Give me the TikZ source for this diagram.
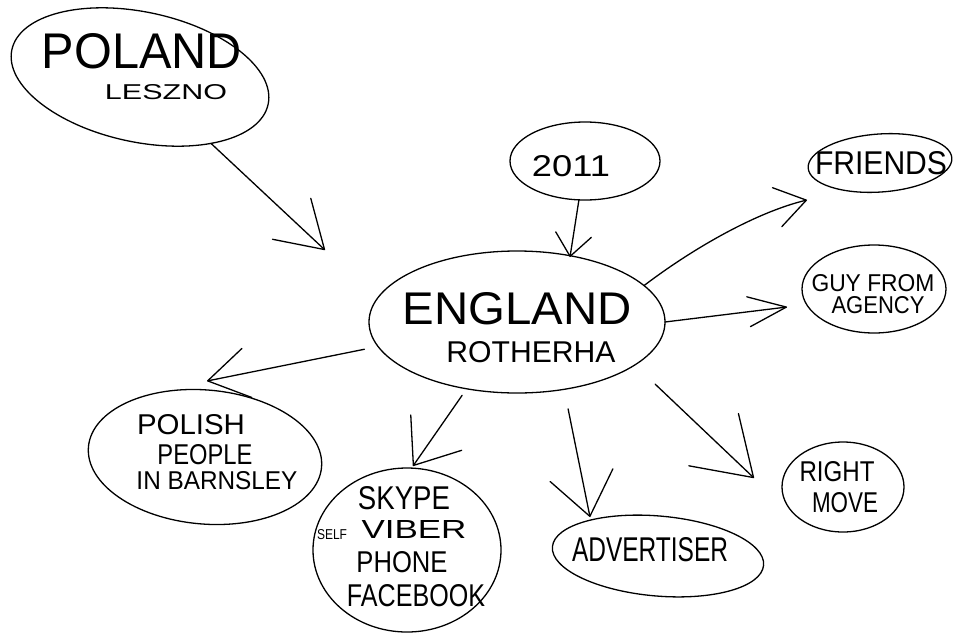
\documentclass[tikz,border=0pt]{standalone}
\usepackage{fontspec}
\setmainfont{Liberation Sans}
\usetikzlibrary{shapes.geometric,arrows.meta}
\newcommand\handtext[3]{\resizebox{#1pt}{#2pt}{#3}}
\begin{document}
\begin{tikzpicture}[x=1pt,y=-1pt,line width=1.3pt,line cap=round,line join=round,
  bubble/.style={draw,ellipse,inner sep=0pt,outer sep=0pt},
  lbl/.style={inner sep=0pt,outer sep=0pt},
  link/.style 2 args={-{Straight Barb[length=#1pt,width=#2pt,round]}}]
\useasboundingbox (0,0) rectangle (953,635);

% bubbles
\node[bubble,minimum width=262pt,minimum height=130pt,rotate=-12] (poland) at (140,77) {};
\node[bubble,minimum width=150pt,minimum height=78pt] (y2011) at (585,161) {};
\node[bubble,minimum width=296pt,minimum height=142pt] (england) at (517,322) {};
\node[bubble,minimum width=144pt,minimum height=58pt,rotate=4] (friends) at (880,163) {};
\node[bubble,minimum width=144pt,minimum height=88pt] (guy) at (874,289) {};
\node[bubble,minimum width=234pt,minimum height=134pt,rotate=-5] (polish) at (205,457) {};
\node[bubble,minimum width=188pt,minimum height=164pt] (skype) at (407,550) {};
\node[bubble,minimum width=212pt,minimum height=80pt,rotate=-5] (advert) at (658,556) {};
\node[bubble,minimum width=122pt,minimum height=90pt] (rmove) at (843,487) {};

% texts
\node[lbl] (tpoland) at (142,51) {\handtext{200}{35}{POLAND}};
\node[lbl] (tleszno) at (166,92) {\handtext{122}{15}{LESZNO}};
\node[lbl] (t2011) at (571,166) {\handtext{78}{21}{2011}};
\node[lbl] (tengland) at (517,309) {\handtext{229}{32}{ENGLAND}};
\node[lbl] (troth) at (531,352) {\handtext{169}{21}{ROTHERHA}};
\node[lbl] (tfriends) at (881,163) {\handtext{132}{23}{FRIENDS}};
\node[lbl] (tguy) at (873,283) {\handtext{123}{17}{GUY FROM}};
\node[lbl] (tagency) at (878,305) {\handtext{93}{17}{AGENCY}};
\node[lbl] (tpolish) at (191,425) {\handtext{108}{20}{POLISH}};
\node[lbl] (tpeople) at (205,455) {\handtext{95}{20}{PEOPLE}};
\node[lbl] (tbarn) at (217,481) {\handtext{161}{18}{IN BARNSLEY}};
\node[lbl] (tskype) at (404,498) {\handtext{92}{23}{SKYPE}};
\node[lbl] (tviber) at (414,529) {\handtext{105}{18}{VIBER}};
\node[lbl] (tself) at (332,535) {\handtext{30}{10}{SELF}};
\node[lbl] (tphone) at (402,562) {\handtext{91}{21}{PHONE}};
\node[lbl] (tfb) at (416,596) {\handtext{138}{22}{FACEBOOK}};
\node[lbl] (tadv) at (650,550) {\handtext{156}{24}{ADVERTISER}};
\node[lbl] (tright) at (837,472) {\handtext{75}{20}{RIGHT}};
\node[lbl] (tmove) at (845,503) {\handtext{66}{20}{MOVE}};

% arrow ends
\coordinate (tipP) at (325,250);
\coordinate (tipY) at (570,257);
\coordinate (tipF) at (807,200);
\coordinate (tipG) at (787,307);
\coordinate (tipPo) at (207,381);
\coordinate (tipS) at (413,466);
\coordinate (tipA) at (590,517);
\coordinate (tipR) at (754,478);

% connectors
\draw[link={45}{56}] (poland) -- (tipP);
\draw[link={22}{36}] (y2011) -- (tipY);
\draw[link={30}{40}] (england.16) .. controls +(50,-38) and +(-50,12) .. (tipF);
\draw[link={38}{30}] (england.0) -- (tipG);
\draw[link={40}{50},shorten <=14pt] (england.190) -- (tipPo);
\draw[link={40}{62},shorten <=8pt] (england.233) -- (tipS);
\draw[link={42}{64},shorten <=20pt] (england.305) -- (tipA);
\draw[link={55}{72},shorten <=28pt] (england.340) -- (tipR);
\end{tikzpicture}
\end{document}
